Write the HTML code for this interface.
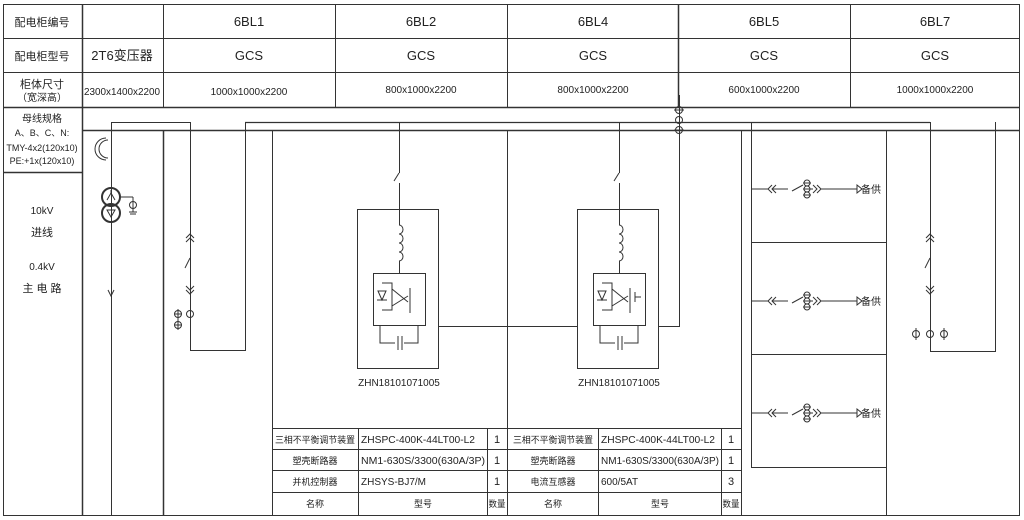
<!DOCTYPE html>
<html><head><meta charset="utf-8"><style>
html,body{margin:0;padding:0;background:#fff;}
svg{display:block;}
text{font-family:"Liberation Sans","Noto Sans CJK SC",sans-serif;fill:#222;}
</style></head><body>
<svg width="1024" height="520" viewBox="0 0 1024 520" xmlns="http://www.w3.org/2000/svg">
<g stroke="#333" stroke-width="1" fill="none">
<rect x="3.5" y="4.5" width="1016" height="511"/>
<line x1="3" y1="38.5" x2="1020" y2="38.5"/>
<line x1="3" y1="72.5" x2="1020" y2="72.5"/>
<line x1="3" y1="107.5" x2="1020" y2="107.5" stroke-width="1.5"/>
<line x1="82" y1="130.5" x2="1020" y2="130.5" stroke-width="1.5"/>
<line x1="3" y1="172.5" x2="82" y2="172.5" stroke-width="1.5"/>
<line x1="82.5" y1="4" x2="82.5" y2="515" stroke-width="1.5"/>
<line x1="163.5" y1="4" x2="163.5" y2="107"/>
<line x1="163.5" y1="130" x2="163.5" y2="515" stroke-width="1.5"/>
<line x1="335.5" y1="4" x2="335.5" y2="107"/>
<line x1="507.5" y1="4" x2="507.5" y2="107"/>
<line x1="678.5" y1="4" x2="678.5" y2="107" stroke-width="1.5"/>
<line x1="850.5" y1="4" x2="850.5" y2="107"/>
<line x1="111" y1="122.5" x2="190" y2="122.5"/>
<line x1="245" y1="122.5" x2="930" y2="122.5" stroke-width="1.3"/>
<line x1="111.5" y1="122" x2="111.5" y2="515"/>
<path d="M108 140 A9 9 0 0 0 108 158"/><path d="M106 138 A11 11 0 0 0 106 160"/>
<circle cx="111" cy="197" r="9" stroke-width="2"/>
<circle cx="111" cy="213" r="9" stroke-width="2"/>
<path d="M107 200 L111 193 L115 200 M111 193 L111 190"/>
<path d="M107 210 L115 210 L111 217 Z"/>
<line x1="120" y1="197" x2="133" y2="197"/><line x1="133" y1="197" x2="133" y2="212"/>
<circle cx="133" cy="205" r="3.5"/><line x1="129" y1="212" x2="137" y2="212"/><line x1="130" y1="214" x2="136" y2="214"/>
<path d="M108 290 L111 296 L114 290"/>
<path d="M190.5 122 V350.5 H245.5 V122"/>
<line x1="272.5" y1="130" x2="272.5" y2="515"/>
<path d="M186 238 L190 234 L194 238 M186 242 L190 238 L194 242"/>
<path d="M190 258 L185 268"/>
<path d="M186 286 L190 290 L194 286 M186 290 L190 294 L194 290"/>
<circle cx="178" cy="314" r="3.5"/><circle cx="190" cy="314" r="3.5"/><circle cx="178" cy="325" r="3.5"/>
<line x1="174" y1="314" x2="182" y2="314"/><line x1="174" y1="325" x2="182" y2="325"/>
<line x1="178" y1="309" x2="178" y2="330"/>
<line x1="507.5" y1="130" x2="507.5" y2="515"/>
<line x1="399.5" y1="122" x2="399.5" y2="173"/><path d="M399 173 L394 181"/><line x1="399.5" y1="183" x2="399.5" y2="225"/>
<rect x="357.5" y="209.5" width="81" height="159"/>
<path d="M399 225 a4 4.5 0 0 1 0 9 a4 4.5 0 0 1 0 9 a4 4.5 0 0 1 0 9 a4 4.5 0 0 1 0 9"/>
<line x1="399.5" y1="261" x2="399.5" y2="273"/>
<rect x="373.5" y="273.5" width="52" height="52"/>
<path d="M382 283 H392 V310 H382 M377 300 H387 M378 291 L382 300 L386 291 Z M392 289 L408 302 M392 306 L408 296 M410 288 V313"/>
<path d="M380 326 V343 H395 M398 336 V350 M402 336 V350 M404 343 H418 V326"/>
<path d="M438 326.5 H577"/>
<line x1="619.5" y1="122" x2="619.5" y2="173"/><path d="M619 173 L614 181"/><line x1="619.5" y1="183" x2="619.5" y2="225"/>
<rect x="577.5" y="209.5" width="81" height="159"/>
<path d="M619 225 a4 4.5 0 0 1 0 9 a4 4.5 0 0 1 0 9 a4 4.5 0 0 1 0 9 a4 4.5 0 0 1 0 9"/>
<line x1="619.5" y1="261" x2="619.5" y2="273"/>
<rect x="593.5" y="273.5" width="52" height="52"/>
<path d="M602 283 H612 V310 H602 M597 300 H607 M598 291 L602 300 L606 291 Z M612 289 L628 302 M612 306 L628 296 M630 288 V313 M635 292 V302 M635 297 H641"/>
<path d="M600 326 V343 H615 M618 336 V350 M622 336 V350 M624 343 H638 V326"/>
<path d="M659 326.5 H679.5 V95"/>
<circle cx="679" cy="110" r="3.5"/><circle cx="679" cy="120" r="3.5"/><circle cx="679" cy="130" r="3.5"/>
<line x1="674" y1="110" x2="684" y2="110"/><line x1="674" y1="130" x2="684" y2="130"/>
<line x1="741.5" y1="130" x2="741.5" y2="515"/>
<path d="M751.5 122 V467.5 H886"/>
<line x1="886.5" y1="130" x2="886.5" y2="515"/>
<line x1="751" y1="242.5" x2="886" y2="242.5"/>
<line x1="751" y1="354.5" x2="886" y2="354.5"/>
<g id="fd">
<line x1="751" y1="189" x2="768" y2="189"/>
<path d="M772 185 L768 189 L772 193 M776 185 L772 189 L776 193"/>
<line x1="772" y1="189" x2="788" y2="189"/>
<path d="M792 191 L803 185"/><line x1="803" y1="189" x2="813" y2="189"/>
<circle cx="807" cy="183" r="3"/><circle cx="807" cy="189" r="3"/><circle cx="807" cy="195" r="3"/>
<line x1="803" y1="183" x2="811" y2="183"/><line x1="803" y1="195" x2="811" y2="195"/>
<path d="M813 185 L817 189 L813 193 M817 185 L821 189 L817 193"/>
<line x1="821" y1="189" x2="857" y2="189"/>
<path d="M857 185 L862 189 L857 193 Z"/>
</g>
<use href="#fd" y="112"/><use href="#fd" y="224"/>
<path d="M930.5 122 V351.5 H995.5 V122"/>
<path d="M926 238 L930 234 L934 238 M926 242 L930 238 L934 242"/>
<path d="M930 258 L925 268"/>
<path d="M926 286 L930 290 L934 286 M926 290 L930 294 L934 290"/>
<circle cx="916" cy="334" r="3.5"/><circle cx="930" cy="334" r="3.5"/><circle cx="944" cy="334" r="3.5"/>
<line x1="916" y1="328" x2="916" y2="340"/><line x1="944" y1="328" x2="944" y2="340"/>
<line x1="272" y1="428.5" x2="741" y2="428.5"/>
<line x1="272" y1="449.5" x2="741" y2="449.5"/>
<line x1="272" y1="470.5" x2="741" y2="470.5"/>
<line x1="272" y1="492.5" x2="741" y2="492.5"/>
<line x1="358.5" y1="428" x2="358.5" y2="515"/>
<line x1="487.5" y1="428" x2="487.5" y2="515"/>
<line x1="598.5" y1="428" x2="598.5" y2="515"/>
<line x1="721.5" y1="428" x2="721.5" y2="515"/>
</g>
<g font-size="13" text-anchor="middle">
<text x="42" y="26" font-size="11">配电柜编号</text>
<text x="42" y="60" font-size="11">配电柜型号</text>
<text x="42" y="88" font-size="11">柜体尺寸</text>
<text x="42" y="101" font-size="10">（宽深高）</text>
<text x="42" y="122" font-size="10">母线规格</text>
<text x="42" y="136" font-size="9">A、B、C、N:</text>
<text x="42" y="151" font-size="9">TMY-4x2(120x10)</text>
<text x="42" y="164" font-size="9">PE:+1x(120x10)</text>
<text x="42" y="214" font-size="10">10kV</text>
<text x="42" y="236" font-size="11">进线</text>
<text x="42" y="270" font-size="10">0.4kV</text>
<text x="42" y="292" font-size="11">主 电 路</text>
<text x="249" y="26">6BL1</text><text x="421" y="26">6BL2</text><text x="593" y="26">6BL4</text><text x="764" y="26">6BL5</text><text x="935" y="26">6BL7</text>
<text x="122" y="60">2T6变压器</text>
<text x="249" y="60">GCS</text><text x="421" y="60">GCS</text><text x="593" y="60">GCS</text><text x="764" y="60">GCS</text><text x="935" y="60">GCS</text>
<g font-size="10">
<text x="122" y="95" textLength="76" lengthAdjust="spacingAndGlyphs">2300x1400x2200</text>
<text x="249" y="95">1000x1000x2200</text>
<text x="421" y="93">800x1000x2200</text>
<text x="593" y="93">800x1000x2200</text>
<text x="764" y="93">600x1000x2200</text>
<text x="935" y="93">1000x1000x2200</text>
<text x="399" y="386">ZHN18101071005</text>
<text x="619" y="386">ZHN18101071005</text>
<text x="871" y="193">备供</text>
<text x="871" y="305">备供</text>
<text x="871" y="417">备供</text>
</g>
<g font-size="9">
<text x="315" y="443" textLength="80" lengthAdjust="spacingAndGlyphs">三相不平衡调节装置</text><text x="315" y="464">塑壳断路器</text><text x="315" y="485">并机控制器</text><text x="315" y="507">名称</text>
<text x="423" y="507">型号</text><text x="497" y="507" textLength="17" lengthAdjust="spacingAndGlyphs">数量</text>
<text x="553" y="443" textLength="80" lengthAdjust="spacingAndGlyphs">三相不平衡调节装置</text><text x="553" y="464">塑壳断路器</text><text x="553" y="485">电流互感器</text><text x="553" y="507">名称</text>
<text x="660" y="507">型号</text><text x="731" y="507" textLength="17" lengthAdjust="spacingAndGlyphs">数量</text>
</g>
<g font-size="10" text-anchor="start">
<text x="361" y="443" textLength="114" lengthAdjust="spacingAndGlyphs">ZHSPC-400K-44LT00-L2</text><text x="361" y="464" textLength="124" lengthAdjust="spacingAndGlyphs">NM1-630S/3300(630A/3P)</text><text x="361" y="485">ZHSYS-BJ7/M</text>
<text x="601" y="443" textLength="114" lengthAdjust="spacingAndGlyphs">ZHSPC-400K-44LT00-L2</text><text x="601" y="464" textLength="118" lengthAdjust="spacingAndGlyphs">NM1-630S/3300(630A/3P)</text><text x="601" y="485">600/5AT</text>
</g>
<g font-size="11"><text x="497" y="443">1</text><text x="497" y="464">1</text><text x="497" y="485">1</text>
<text x="731" y="443">1</text><text x="731" y="464">1</text><text x="731" y="485">3</text></g>
</g>
</svg>
</body></html>
